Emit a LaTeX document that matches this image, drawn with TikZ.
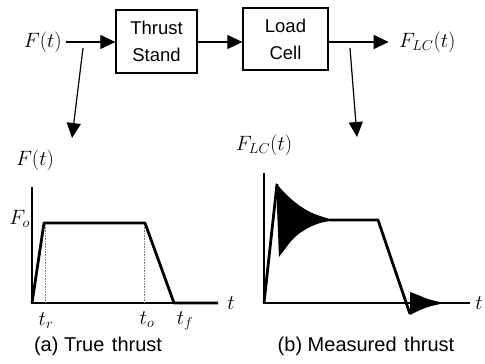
\documentclass[tikz,border=0pt]{standalone}
\usepackage{fontspec}
\setmainfont{Liberation Sans}
\usetikzlibrary{arrows.meta}
\begin{document}
\begin{tikzpicture}[x=1pt,y=-1pt,
  blk/.style={draw,line width=1.3pt,inner sep=0pt,align=center,font=\fontsize{18.5}{27}\selectfont},
  mlab/.style={inner sep=1pt,font=\fontsize{21}{25}\selectfont},
  captxt/.style={inner sep=0pt,font=\fontsize{20}{24}\selectfont},
  flow/.style={line width=1.2pt,-{Triangle[length=15pt,width=14pt]}},
  axisline/.style={line width=1.1pt},
  sig/.style={line width=2.8pt,line join=round},
  guide/.style={densely dotted,line width=0.6pt,gray}]
\useasboundingbox (0,0) rectangle (485,364);
% block diagram
\node[blk,minimum width=81pt,minimum height=63pt] (ts) at (156.5,41.5) {Thrust\\Stand};
\node[blk,minimum width=85pt,minimum height=62pt] (lc) at (285.5,39) {Load\\Cell};
\node[mlab,anchor=east] (Ft) at (63,42) {$F(t)$};
\node[mlab,anchor=west] (FLC) at (398,42) {$F_{LC}(t)$};
\draw[flow] (Ft.east) ++(3pt,0) coordinate (f0) -- (ts.west |- f0);
\draw[flow] (ts.east |- f0) -- (lc.west |- f0);
\draw[flow] (lc.east |- f0) -- ++(60pt,0) coordinate (f1);
\coordinate (a1) at (83,48); \coordinate (a2) at (72,138);
\coordinate (b1) at (350,48); \coordinate (b2) at (357,137);
\draw[flow] (a1) -- (a2);
\draw[flow] (b1) -- (b2);
% left graph
\coordinate (o1) at (32,303);
\draw[axisline] (32,187) coordinate (y1) -- (o1) -- (218,303) coordinate (x1);
\draw[guide] (45,225) -- (45,303);
\draw[guide] (144,225) -- (144,303);
\draw[sig] (o1) -- (44,223) -- (145,223) -- (174,303) -- (x1);
\node[mlab] (lF) at (35,160) {$F(t)$};
\node[mlab,anchor=east] (lFo) at (31,219) {$F_o$};
\node[mlab] (lt) at (231,303) {$t$};
\node[mlab] (ltr) at (46,321) {$t_r$};
\node[mlab] (lto) at (147,320) {$t_o$};
\node[mlab] (ltf) at (185,321) {$t_f$};
\node[captxt] (ca) at (98,346) {(a) True\hspace{0.1em} thrust};
% right graph
\coordinate (o2) at (264,303);
\draw[axisline] (264,173) coordinate (y2) -- (o2) -- (470,303) coordinate (x2);
\fill plot[smooth] coordinates {(276,183) (282,190) (290,198) (300,206) (310,212) (320,216) (330,219) (336,220)}
  -- plot[smooth] coordinates {(330,221) (320,223) (310,227) (300,233) (292,240) (285,249) (279,257)} -- cycle;
\fill plot[smooth] coordinates {(410,292) (418,295) (428,299) (440,302) (448,303)}
  -- plot[smooth] coordinates {(440,304) (428,307) (418,311) (410,315)} -- cycle;
\draw[sig] (o2) -- (277,184);
\draw[sig] (330,220) -- (378,220) -- (410,314);
\node[mlab] (rF) at (264,145) {$F_{LC}(t)$};
\node[mlab] (rt) at (479,303) {$t$};
\node[captxt] (cb) at (366,346) {(b) Measured\hspace{0.1em} thrust};
\end{tikzpicture}
\end{document}
